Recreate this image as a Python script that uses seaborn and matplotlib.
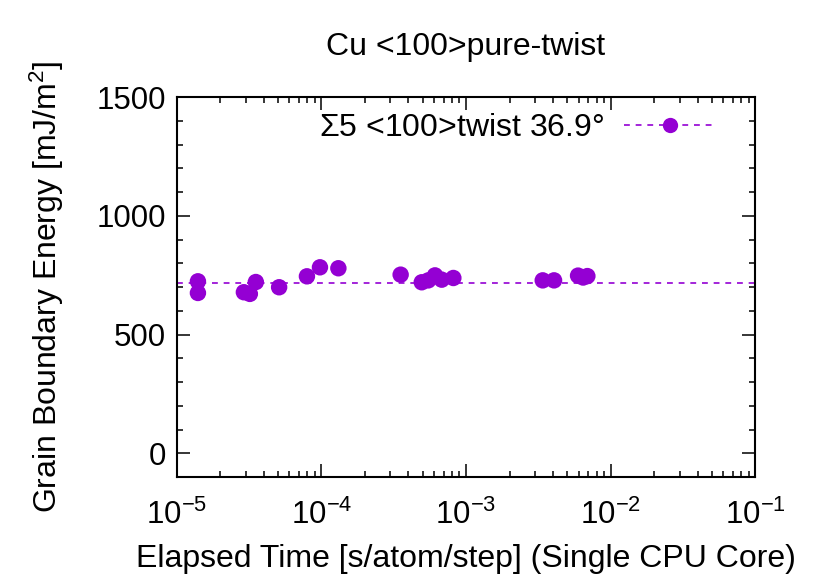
import numpy as np
import pandas as pd
import seaborn as sns
import matplotlib.pyplot as plt
from matplotlib.lines import Line2D
from matplotlib.ticker import MultipleLocator, LogLocator, FuncFormatter

# Elapsed time per atom per step and grain boundary energy
elapsed_time = [1.40e-5, 1.40e-5, 2.91e-5, 3.20e-5, 3.52e-5, 5.10e-5, 7.94e-5,
                9.77e-5, 1.31e-4, 3.53e-4, 4.94e-4, 5.48e-4, 6.10e-4, 6.79e-4,
                8.17e-4, 3.39e-3, 4.06e-3, 5.95e-3, 6.45e-3, 6.90e-3]
gb_energy = [724, 675, 678, 671, 721, 699, 745,
             783, 779, 752, 720, 728, 749, 731,
             738, 728, 728, 748, 740, 746]
reference_energy = 717
line_x = [1e-5, 1e-1]
series_label = r'$\Sigma$5 <100>twist 36.9°'

df = pd.DataFrame({'time': elapsed_time, 'energy': gb_energy})
ref = pd.DataFrame({'time': line_x, 'energy': [reference_energy] * len(line_x)})

sns.set_style('ticks')
plt.rcParams['font.family'] = ['Liberation Sans', 'DejaVu Sans']
plt.rcParams['mathtext.fontset'] = 'custom'
plt.rcParams['mathtext.rm'] = 'Liberation Sans'
plt.rcParams['mathtext.it'] = 'Liberation Sans'
plt.rcParams['text.color'] = 'black'
plt.rcParams['axes.labelcolor'] = 'black'
plt.rcParams['xtick.color'] = 'black'
plt.rcParams['ytick.color'] = 'black'
plt.rcParams['axes.edgecolor'] = 'black'

color = '#9400d3'
dash = (0, (3.5, 3.5))
fig, ax = plt.subplots(figsize=(8.3, 5.81), dpi=100)
fig.subplots_adjust(left=0.213, right=0.910, top=0.833, bottom=0.179)

sns.lineplot(data=ref, x='time', y='energy', ax=ax, color=color,
             linestyle=dash, linewidth=1.2, legend=False)
sns.scatterplot(data=df, x='time', y='energy', ax=ax, color=color,
                s=140, edgecolor='none', legend=False, zorder=3)

ax.set_xscale('log')
ax.set_xlim(1e-5, 1e-1)
ax.set_ylim(-100, 1500)
ax.yaxis.set_major_locator(MultipleLocator(500))
ax.yaxis.set_minor_locator(MultipleLocator(100))
ax.xaxis.set_major_locator(LogLocator(base=10))
ax.xaxis.set_minor_locator(LogLocator(base=10, subs=np.arange(2, 10)))
ax.xaxis.set_major_formatter(FuncFormatter(lambda v, p: r'$10^{%d}$' % round(np.log10(v))))

ax.tick_params(which='both', direction='in', top=True, right=True,
               labelsize=22.5, width=1.1)
ax.tick_params(axis='x', which='major', pad=16)
ax.tick_params(axis='y', which='major', pad=8)
ax.tick_params(which='major', length=9.5)
ax.tick_params(which='minor', length=4.5)
for s in ax.spines.values():
    s.set_linewidth(1.5)

ax.set_xlabel('Elapsed Time [s/atom/step] (Single CPU Core)', fontsize=23, labelpad=10)
ax.set_ylabel('Grain Boundary Energy [mJ/m$^2$]', fontsize=23, labelpad=22)
ax.set_title('Cu <100>pure-twist', fontsize=23, pad=30)

handle = Line2D([], [], color=color, linestyle=dash, linewidth=1.2,
                marker='o', markersize=11, markeredgecolor='none')
ax.legend([handle], [series_label], loc='upper right', frameon=False,
          markerfirst=False, fontsize=23, handlelength=2.9, handletextpad=0.6,
          borderaxespad=0.1, bbox_to_anchor=(0.96, 1.0))

fig.savefig('out.png', dpi=100)
